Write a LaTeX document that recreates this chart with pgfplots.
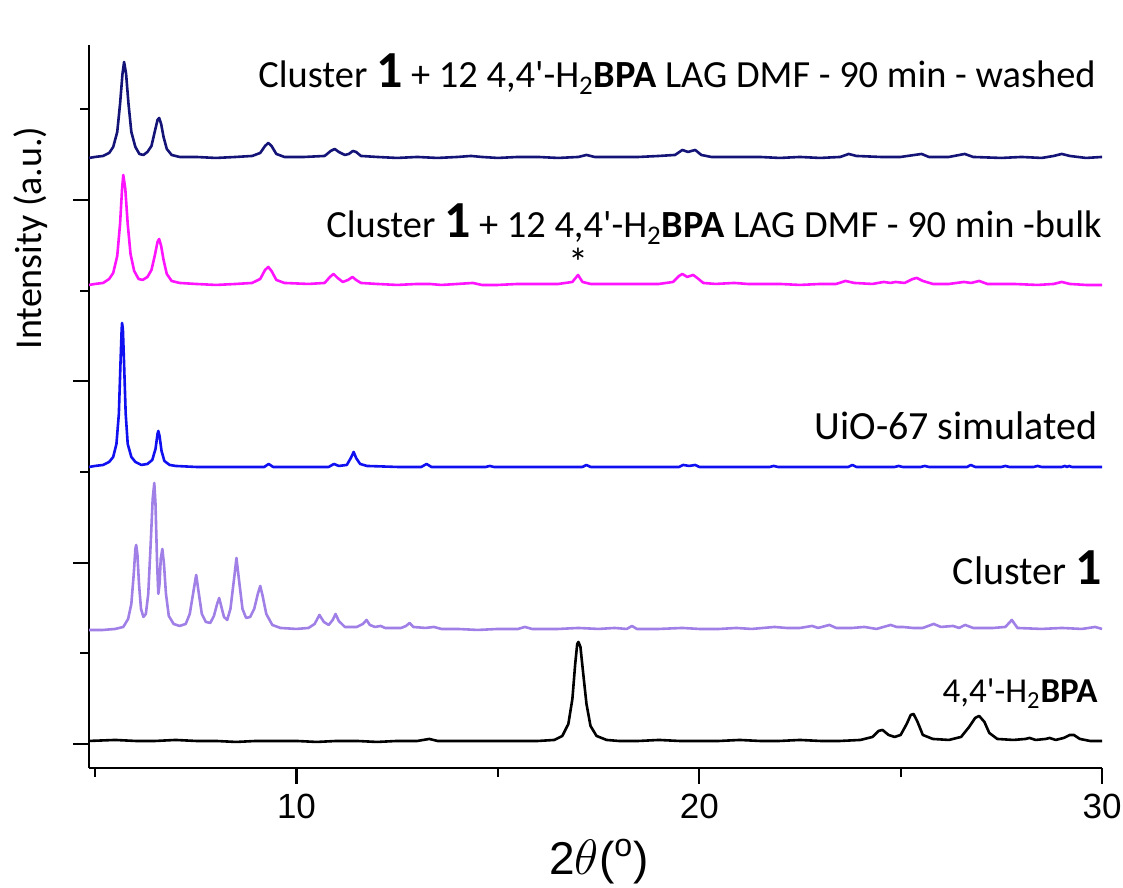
\documentclass[border=0pt]{standalone}
\usepackage{pgfplots}
\pgfplotsset{compat=1.18}
\usepackage{fontspec}
\setmainfont{Carlito}[Ligatures=TeXOff]
\newfontfamily\arialfont{Liberation Sans}

\definecolor{washed}{RGB}{20,20,120}
\definecolor{bulk}{RGB}{255,20,255}
\definecolor{uio}{RGB}{16,16,240}
\definecolor{cluster}{RGB}{160,128,230}

% bold, slightly enlarged compound number
\newcommand{\cpd}[1]{\textbf{\fontsize{26}{26}\selectfont #1}}

\begin{document}
\begin{tikzpicture}
\begin{axis}[
  scale only axis,
  width=506.5pt, height=361.5pt,
  xmin=4.85, xmax=30, ymin=-24, ymax=699,
  axis lines*=left,
  axis line style={line width=1.1pt},
  xtick={10,20,30}, minor xtick={5,15,25},
  ytick={0,181.3,362.6,543.9}, minor ytick={90.65,272,453.3,634.6},
  yticklabels={},
  tick align=outside,
  major tick length=8pt, minor tick length=4.5pt,
  every tick/.style={line width=1.1pt, black},
  /pgf/number format/assume math mode=true,
  xticklabel style={font=\arialfont\fontsize{17.5}{17.5}\selectfont, yshift=-1.5pt},
  clip=false,
  every axis plot/.append style={line width=1.3pt, line join=round},
]

% 4,4'-H2BPA
\addplot[black] coordinates {
(4.85,3) (5.5,4) (6,3) (6.5,3) (7,4) (7.5,3) (8,3) (8.5,2) (9,3) (9.5,3) (10,3) (10.5,2)
(11,3) (11.5,3) (12,2) (12.5,3) (13,3) (13.3,5) (13.5,3) (14,3) (14.5,3) (15,3) (15.5,3)
(16,3) (16.4,4) (16.6,8) (16.75,20) (16.85,45) (16.92,80) (16.97,100) (17.0,102) (17.05,97)
(17.12,70) (17.2,40) (17.3,18) (17.45,8) (17.7,4) (18,3) (18.5,3) (19,4) (19.5,3) (20,3)
(20.5,3) (21,4) (21.5,3) (22,3) (22.5,4) (23,3) (23.5,3) (24.0,4) (24.3,7) (24.45,13)
(24.55,14) (24.7,9) (24.85,7) (25.0,9) (25.15,20) (25.25,29) (25.32,30) (25.42,22) (25.55,9)
(25.8,5) (26.2,4) (26.5,7) (26.7,17) (26.85,26) (26.95,28) (27.08,22) (27.2,11) (27.4,5)
(27.8,4) (28.1,5) (28.2,6) (28.35,4) (28.6,5) (28.7,6) (28.85,4) (29.05,6) (29.2,9) (29.3,9)
(29.45,5) (29.7,3) (30,3)
};

% Cluster 1
\addplot[cluster] coordinates {
(4.85,114) (5.2,114) (5.5,115) (5.7,117) (5.82,125) (5.9,140) (5.96,170) (6.0,195) (6.02,199)
(6.05,190) (6.09,160) (6.14,135) (6.2,127) (6.26,130) (6.32,150) (6.38,200) (6.43,245)
(6.47,261) (6.5,240) (6.54,180) (6.57,150) (6.6,160) (6.63,185) (6.67,195) (6.71,180)
(6.76,150) (6.83,128) (6.95,120) (7.1,118) (7.25,120) (7.35,130) (7.44,152) (7.51,169)
(7.57,152) (7.65,130) (7.75,122) (7.86,121) (7.95,128) (8.03,140) (8.08,146) (8.13,138)
(8.2,127) (8.28,124) (8.36,135) (8.45,165) (8.51,186) (8.57,165) (8.66,135) (8.75,126)
(8.85,127) (8.95,135) (9.04,150) (9.10,158) (9.16,148) (9.25,130) (9.4,119) (9.6,116)
(10,115) (10.3,116) (10.45,120) (10.57,129) (10.68,122) (10.8,119) (10.9,124) (10.97,130)
(11.05,123) (11.2,117) (11.5,117) (11.65,120) (11.74,124) (11.82,119) (11.95,117) (12.09,118)
(12.2,116) (12.6,116) (12.72,118) (12.81,121) (12.9,117) (13.2,116) (13.41,117) (13.6,115)
(14,115) (14.5,114) (15,115) (15.5,115) (15.67,117) (15.85,115) (16.5,115) (17,116) (17.5,115)
(17.9,116) (18.2,115) (18.33,118) (18.45,115) (19,115) (19.58,116) (20,115) (20.5,115)
(20.92,116) (21.3,115) (21.87,117) (22.16,116) (22.5,116) (22.8,118) (22.95,116) (23.23,119)
(23.4,116) (23.8,116) (24.1,117) (24.4,115) (24.75,119) (24.9,117) (25.05,117) (25.3,116)
(25.55,116) (25.82,120) (26.0,117) (26.3,118) (26.45,116) (26.6,119) (26.8,116) (27.3,116)
(27.6,117) (27.76,124) (27.9,116) (28.5,115) (29,116) (29.5,115) (29.83,117) (30,115)
};

% UiO-67 simulated
\addplot[uio] coordinates {
(4.85,277) (5.0,278) (5.2,279) (5.35,282) (5.45,287) (5.53,300) (5.59,330) (5.63,380)
(5.66,415) (5.67,421) (5.69,415) (5.72,380) (5.76,330) (5.81,300) (5.9,287) (6.0,282)
(6.15,279) (6.3,280) (6.42,284) (6.5,295) (6.55,310) (6.57,313) (6.6,308) (6.65,293)
(6.72,283) (6.85,279) (7.0,278) (7.5,277) (9.2,277) (9.31,280) (9.42,277) (10.8,277)
(10.93,280) (11.05,278) (11.25,279) (11.35,286) (11.42,292) (11.48,286) (11.58,280)
(11.75,278) (12.5,277) (13.1,277) (13.23,280) (13.35,277) (14.7,277) (14.8,278) (14.9,277)
(17.1,277) (17.2,279) (17.3,277) (19.5,277) (19.6,279) (19.75,278) (19.9,279) (20.0,277)
(21.75,277) (21.85,278) (21.95,277) (23.7,277) (23.8,279) (23.9,277) (24.85,277) (24.95,278)
(25.05,277) (25.5,277) (25.6,278) (25.7,277) (26.65,277) (26.74,279) (26.85,277) (27.5,277)
(27.6,278) (27.7,277) (28.3,277) (28.4,278) (28.5,277) (29.0,277) (29.08,278) (29.13,277)
(29.18,278) (29.25,277) (30,277)
};

% Cluster 1 + 12 4,4'-H2BPA, bulk
\addplot[bulk] coordinates {
(4.85,459) (5.0,460) (5.2,461) (5.35,465) (5.45,471) (5.55,488) (5.62,520) (5.67,555)
(5.70,569) (5.75,555) (5.81,520) (5.88,490) (5.97,473) (6.08,465) (6.18,464) (6.3,467)
(6.4,474) (6.48,488) (6.55,502) (6.59,505) (6.64,498) (6.7,484) (6.78,470) (6.9,463)
(7.1,461) (7.5,460) (8,459) (8.5,460) (8.9,461) (9.1,465) (9.22,474) (9.3,477) (9.38,473)
(9.5,464) (9.7,461) (10.3,460) (10.7,461) (10.83,467) (10.92,470) (11.02,466) (11.15,462)
(11.28,464) (11.39,467) (11.48,464) (11.6,461) (12,460) (12.5,459) (13,460) (13.3,460)
(13.6,459) (14,460) (14.38,461) (14.6,459) (15,459) (15.5,460) (16,460) (16.5,460)
(16.85,462) (16.99,469) (17.1,462) (17.3,460) (18,460) (18.5,460) (19,460) (19.35,462)
(19.5,468) (19.58,470) (19.7,467) (19.85,469) (19.95,466) (20.1,461) (20.4,460) (20.87,461)
(21.2,460) (22,460) (22.5,459) (23,460) (23.4,460) (23.63,463) (23.85,461) (24.3,460)
(24.58,462) (24.75,461) (24.87,462) (25.1,461) (25.3,465) (25.4,466) (25.55,463) (25.8,460)
(26.2,460) (26.57,462) (26.75,461) (26.95,463) (27.15,460) (27.8,460) (28.4,459) (28.8,460)
(29.0,462) (29.2,460) (29.6,459) (30,459)
};

% Cluster 1 + 12 4,4'-H2BPA, washed
\addplot[washed] coordinates {
(4.85,586) (5.0,587) (5.2,588) (5.35,591) (5.45,597) (5.55,612) (5.62,640) (5.68,670)
(5.72,682) (5.77,670) (5.83,640) (5.9,612) (6.0,597) (6.1,590) (6.2,589) (6.3,592) (6.4,598)
(6.48,612) (6.55,624) (6.59,626) (6.64,620) (6.7,607) (6.78,595) (6.9,589) (7.1,587)
(7.5,587) (8.0,586) (8.5,587) (8.9,588) (9.1,591) (9.22,598) (9.3,601) (9.38,598) (9.5,590)
(9.7,587) (10.2,587) (10.7,588) (10.85,593) (10.95,595) (11.05,592) (11.2,589) (11.3,590)
(11.4,593) (11.48,592) (11.6,588) (12,587) (12.5,586) (13,587) (13.5,586) (14,587)
(14.33,588) (14.6,587) (15,586) (15.5,587) (16,587) (16.5,586) (17.0,587) (17.2,589)
(17.4,587) (18,587) (18.5,587) (19,588) (19.4,589) (19.58,594) (19.72,592) (19.9,594)
(20.05,589) (20.3,587) (21,587) (21.5,587) (22,586) (22.5,587) (23,586) (23.5,587)
(23.71,590) (23.9,588) (24.5,587) (25,587) (25.52,590) (25.7,587) (26.2,587) (26.59,590)
(26.8,587) (27.5,586) (28,587) (28.5,586) (28.8,588) (29.0,590) (29.2,588) (29.6,586) (30,587)
};

% Series labels
\begin{scope}[every node/.style={inner sep=0pt}]
\node[anchor=base east, font=\fontsize{19.2}{23}\selectfont] at (axis cs:29.85,656)
  {Cluster \cpd{1} + 12 4,4'-H\textsubscript{2}\textbf{BPA} LAG DMF - 90 min - washed};
\node[anchor=base east, font=\fontsize{19.2}{23}\selectfont] at (axis cs:30,506)
  {Cluster \cpd{1} + 12 4,4'-H\textsubscript{2}\textbf{BPA} LAG DMF - 90 min -bulk};
\node[anchor=base east, font=\fontsize{20}{24}\selectfont] at (axis cs:29.9,304) {UiO-67 simulated};
\node[anchor=base east, font=\fontsize{20}{24}\selectfont] at (axis cs:30,159) {Cluster \cpd{1}};
\node[anchor=base east, font=\fontsize{17.5}{21}\selectfont] at (axis cs:29.9,41) {4,4'-H\textsubscript{2}\textbf{BPA}};
\node[font=\fontsize{20}{24}\selectfont] at (axis cs:16.99,482) {*};
\end{scope}

% Axis titles
\node[rotate=90, font=\fontsize{19}{23}\selectfont] at (rel axis cs:-0.058,0.733) {Intensity (a.u.)};
\node[font=\arialfont\fontsize{23}{27}\selectfont] at (axis cs:17.51,-118) {2$\theta$(\textsuperscript{o})};

\coordinate (bbsw) at (rel axis cs:-0.0879,-0.166);
\coordinate (bbne) at (rel axis cs:1.0207,1.0622);
\end{axis}
\pgfresetboundingbox
\path (bbsw) rectangle (bbne);
\end{tikzpicture}
\end{document}
